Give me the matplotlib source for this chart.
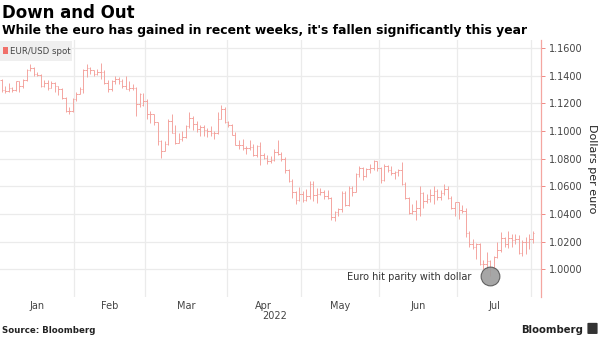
import numpy as np
import pandas as pd
import matplotlib
matplotlib.use("Agg")
import matplotlib.pyplot as plt
from matplotlib.patches import Rectangle, FancyBboxPatch

# trading days shown on the chart
dates = pd.bdate_range("2022-01-03", "2022-08-01")

opens = [1.1370, 1.1298, 1.1286, 1.1313, 1.1296, 1.1359, 1.1325, 1.1368, 1.1442, 1.1455,
         1.1412, 1.1405, 1.1325, 1.1344, 1.1311, 1.1345, 1.1326, 1.1302, 1.1242, 1.1144,
         1.1146,
         1.1235, 1.1271, 1.1304, 1.1442, 1.1453, 1.1440, 1.1415, 1.1424, 1.1426, 1.1350,
         1.1307, 1.1358, 1.1373, 1.1362, 1.1322, 1.1307, 1.1308, 1.1308, 1.1192, 1.1185,
         1.1219, 1.1125, 1.1120, 1.1063, 1.0929, 1.0856, 1.0906, 1.1075, 1.0988, 1.0912,
         1.0940, 1.0955, 1.1035, 1.1093, 1.1052, 1.1016, 1.1031, 1.1004, 1.0997, 1.0983,
         1.0985, 1.1089, 1.1158,
         1.1067, 1.1045, 1.0972, 1.0902, 1.0898, 1.0877, 1.0878, 1.0888, 1.0827, 1.0890,
         1.0826, 1.0807, 1.0780, 1.0790, 1.0851, 1.0835, 1.0797, 1.0716, 1.0640, 1.0556,
         1.0502,
         1.0545, 1.0503, 1.0527, 1.0620, 1.0540, 1.0548, 1.0560, 1.0530, 1.0513, 1.0381,
         1.0412, 1.0434, 1.0552, 1.0465, 1.0588, 1.0562, 1.0690, 1.0733, 1.0678, 1.0726,
         1.0733, 1.0780,
         1.0733, 1.0647, 1.0750, 1.0719, 1.0695, 1.0702, 1.0716, 1.0616, 1.0519, 1.0410,
         1.0420, 1.0445, 1.0550, 1.0495, 1.0505, 1.0534, 1.0566, 1.0522, 1.0554, 1.0583,
         1.0517, 1.0443,
         1.0484, 1.0426, 1.0424, 1.0266, 1.0182, 1.0161, 1.0183, 1.0037, 1.0036, 1.0060,
         1.0019, 1.0086, 1.0142, 1.0226, 1.0181, 1.0230, 1.0212, 1.0220, 1.0117, 1.0199,
         1.0196,
         1.0221]

highs = [1.1376, 1.1322, 1.1346, 1.1320, 1.1364, 1.1362, 1.1375, 1.1450, 1.1482, 1.1465,
         1.1425, 1.1410, 1.1369, 1.1370, 1.1363, 1.1357, 1.1329, 1.1310, 1.1245, 1.1175,
         1.1240,
         1.1282, 1.1320, 1.1451, 1.1483, 1.1466, 1.1444, 1.1448, 1.1495, 1.1443, 1.1370,
         1.1368, 1.1395, 1.1390, 1.1375, 1.1395, 1.1360, 1.1342, 1.1321, 1.1274, 1.1273,
         1.1233, 1.1145, 1.1125, 1.1065, 1.0935, 1.0930, 1.1085, 1.1121, 1.1045, 1.0983,
         1.0998, 1.1045, 1.1137, 1.1110, 1.1070, 1.1041, 1.1045, 1.1025, 1.1035, 1.0999,
         1.1137, 1.1185, 1.1172,
         1.1076, 1.1054, 1.0992, 1.0937, 1.0941, 1.0892, 1.0933, 1.0903, 1.0899, 1.0924,
         1.0840, 1.0823, 1.0820, 1.0868, 1.0936, 1.0849, 1.0810, 1.0726, 1.0655, 1.0567,
         1.0593,
         1.0568, 1.0580, 1.0642, 1.0642, 1.0590, 1.0589, 1.0575, 1.0577, 1.0522, 1.0421,
         1.0444, 1.0564, 1.0565, 1.0606, 1.0600, 1.0696, 1.0748, 1.0738, 1.0735, 1.0765,
         1.0787, 1.0786,
         1.0737, 1.0764, 1.0753, 1.0748, 1.0712, 1.0728, 1.0774, 1.0635, 1.0524, 1.0472,
         1.0500, 1.0601, 1.0557, 1.0545, 1.0583, 1.0606, 1.0579, 1.0571, 1.0615, 1.0606,
         1.0530, 1.0487,
         1.0486, 1.0463, 1.0445, 1.0276, 1.0220, 1.0189, 1.0188, 1.0068, 1.0122, 1.0070,
         1.0097, 1.0201, 1.0269, 1.0235, 1.0278, 1.0254, 1.0259, 1.0249, 1.0209, 1.0235,
         1.0255,
         1.0275]

lows = [1.1281, 1.1272, 1.1285, 1.1285, 1.1290, 1.1285, 1.1313, 1.1358, 1.1435, 1.1395,
        1.1395, 1.1318, 1.1315, 1.1300, 1.1310, 1.1285, 1.1263, 1.1235, 1.1136, 1.1121,
        1.1140,
        1.1220, 1.1265, 1.1276, 1.1391, 1.1410, 1.1400, 1.1404, 1.1379, 1.1341, 1.1280,
        1.1290, 1.1340, 1.1340, 1.1310, 1.1302, 1.1288, 1.1300, 1.1106, 1.1173, 1.1183,
        1.1090, 1.1055, 1.1040, 1.0900, 1.0806, 1.0855, 1.0900, 1.0985, 1.0907, 1.0912,
        1.0930, 1.0951, 1.1020, 1.1005, 1.0995, 1.0966, 1.0962, 1.0960, 1.0965, 1.0945,
        1.0980, 1.1084, 1.1060,
        1.1028, 1.0968, 1.0897, 1.0873, 1.0861, 1.0837, 1.0863, 1.0820, 1.0811, 1.0757,
        1.0795, 1.0760, 1.0770, 1.0785, 1.0823, 1.0780, 1.0697, 1.0633, 1.0515, 1.0471,
        1.0497,
        1.0490, 1.0492, 1.0505, 1.0493, 1.0483, 1.0536, 1.0510, 1.0505, 1.0354, 1.0349,
        1.0389, 1.0418, 1.0461, 1.0460, 1.0531, 1.0556, 1.0664, 1.0643, 1.0666, 1.0700,
        1.0717, 1.0713,
        1.0627, 1.0642, 1.0707, 1.0680, 1.0653, 1.0674, 1.0608, 1.0507, 1.0397, 1.0398,
        1.0359, 1.0382, 1.0446, 1.0482, 1.0486, 1.0469, 1.0500, 1.0500, 1.0538, 1.0507,
        1.0438, 1.0383,
        1.0366, 1.0406, 1.0236, 1.0161, 1.0144, 1.0072, 1.0032, 0.9999, 0.9998, 0.9952,
        1.0004, 1.0082, 1.0126, 1.0161, 1.0152, 1.0160, 1.0185, 1.0112, 1.0097, 1.0114,
        1.0150,
        1.0192]

closes = [1.1298, 1.1286, 1.1313, 1.1296, 1.1359, 1.1325, 1.1368, 1.1442, 1.1455, 1.1412,
          1.1405, 1.1325, 1.1344, 1.1311, 1.1345, 1.1326, 1.1302, 1.1242, 1.1144, 1.1146,
          1.1235,
          1.1271, 1.1304, 1.1442, 1.1453, 1.1440, 1.1415, 1.1424, 1.1426, 1.1350, 1.1307,
          1.1358, 1.1373, 1.1362, 1.1322, 1.1307, 1.1308, 1.1308, 1.1192, 1.1270, 1.1219,
          1.1125, 1.1120, 1.1063, 1.0929, 1.0856, 1.0906, 1.1075, 1.0988, 1.0912, 1.0940,
          1.0955, 1.1035, 1.1093, 1.1052, 1.1016, 1.1031, 1.1004, 1.0997, 1.0983, 1.0985,
          1.1089, 1.1158, 1.1067,
          1.1045, 1.0972, 1.0902, 1.0898, 1.0877, 1.0878, 1.0888, 1.0827, 1.0890, 1.0826,
          1.0807, 1.0780, 1.0790, 1.0851, 1.0835, 1.0797, 1.0716, 1.0640, 1.0556, 1.0502,
          1.0545,
          1.0503, 1.0527, 1.0620, 1.0540, 1.0548, 1.0560, 1.0530, 1.0513, 1.0381, 1.0412,
          1.0434, 1.0552, 1.0465, 1.0588, 1.0562, 1.0690, 1.0733, 1.0678, 1.0726, 1.0733,
          1.0780, 1.0733,
          1.0647, 1.0750, 1.0719, 1.0695, 1.0702, 1.0716, 1.0616, 1.0519, 1.0410, 1.0420,
          1.0445, 1.0550, 1.0495, 1.0505, 1.0534, 1.0566, 1.0522, 1.0554, 1.0583, 1.0517,
          1.0443, 1.0484,
          1.0426, 1.0424, 1.0266, 1.0182, 1.0161, 1.0183, 1.0037, 1.0036, 1.0060, 1.0019,
          1.0086, 1.0142, 1.0226, 1.0181, 1.0230, 1.0212, 1.0220, 1.0117, 1.0199, 1.0196,
          1.0221,
          1.0260]

month_names = ["Jan", "Feb", "Mar", "Apr", "May", "Jun", "Jul"]
yticks = [1.00, 1.02, 1.04, 1.06, 1.08, 1.10, 1.12, 1.14, 1.16]
parity_date = "2022-07-14"
parity_low = 0.9952

bar_color = "#f3a09a"
grid_color = "#ebebeb"

x = np.arange(len(dates))
opens, highs, lows, closes = map(np.array, (opens, highs, lows, closes))

fig = plt.figure(figsize=(6, 3.37), dpi=100)
ax = fig.add_axes([0, 0.1187, 541 / 600, 0.7626])

# grid: verticals just before the first trading day of each month
month_idx = pd.Series(x, index=dates).groupby(dates.to_period("M")).first().values
for m in month_idx[1:]:
    ax.axvline(m - 0.5, color=grid_color, lw=0.9, zorder=0)
for v in yticks:
    ax.axhline(v, color=grid_color, lw=0.9, zorder=0)

# ohlc bars
ax.vlines(x, lows, highs, color=bar_color, lw=0.65, zorder=2)
ax.hlines(opens, x - 0.45, x, color=bar_color, lw=0.65, zorder=2)
ax.hlines(closes, x, x + 0.45, color=bar_color, lw=0.65, zorder=2)

ax.set_xlim(-0.5, 152.3)
ax.set_ylim(0.98, 1.1658)

# month labels centred in each month
edges = list(month_idx) + [len(dates)]
mids = [(edges[i] + edges[i + 1]) / 2 - 0.5 for i in range(len(month_names))]
ax.set_xticks(mids)
ax.set_xticklabels(month_names, fontsize=7, color="#444444")
ax.tick_params(axis="x", length=0, pad=3)
ax.text(mids[3] + 3, -0.074, "2022", transform=ax.get_xaxis_transform(),
        ha="center", va="center", fontsize=7, color="#444444")

ax.yaxis.tick_right()
ax.yaxis.set_label_position("right")
ax.set_yticks(yticks)
ax.set_yticklabels([f"{v:.4f}" for v in yticks], fontsize=7, color="#444444")
ax.tick_params(axis="y", length=3, width=0.7, color="#f08a84", pad=3)
ax.set_ylabel("Dollars per euro", rotation=270, fontsize=8, color="#222222", labelpad=10)

for s in ["top", "left", "bottom"]:
    ax.spines[s].set_visible(False)
ax.spines["right"].set_color("#f4a6a0")
ax.spines["right"].set_linewidth(0.9)

# parity marker
pi = dates.get_loc(pd.Timestamp(parity_date))
ax.plot(pi, parity_low, "o", ms=13.5, mfc="#9c9c9c", mec="#555555", mew=0.8,
        alpha=0.9, zorder=4, clip_on=False)
ax.annotate("Euro hit parity with dollar", (pi, parity_low), xytext=(-14, -1),
            textcoords="offset points", ha="right", va="center", fontsize=7,
            color="#333333")

# legend box
ax.add_patch(Rectangle((0, 0.918), 0.133, 0.078, transform=ax.transAxes,
                       facecolor="#efefef", edgecolor="none", zorder=3))
ax.add_patch(Rectangle((0.006, 0.944), 0.008, 0.028, transform=ax.transAxes,
                       facecolor="#f0706a", edgecolor="none", zorder=4))
ax.text(0.019, 0.957, "EUR/USD spot", transform=ax.transAxes, fontsize=6.2,
        color="#444444", va="center", zorder=4)

# titles and footer
fig.text(0.003, 0.9466, "Down and Out", fontsize=12, fontweight="bold", va="baseline")
fig.text(0.003, 0.899, "While the euro has gained in recent weeks, it's fallen significantly this year",
         fontsize=8.9, fontweight="bold", va="baseline")
fig.text(0.003, 0.012, "Source: Bloomberg", fontsize=6.2, fontweight="bold",
         va="baseline", color="#222222")
fig.text(0.972, 0.012, "Bloomberg", fontsize=7.3, fontweight="bold", ha="right",
         va="baseline", color="#222222")
fig.patches.append(FancyBboxPatch((0.981, 0.011), 0.013, 0.029, boxstyle="round,pad=0.002",
                                  transform=fig.transFigure, facecolor="#333333",
                                  edgecolor="none"))

fig.savefig("out.png", dpi=100)
